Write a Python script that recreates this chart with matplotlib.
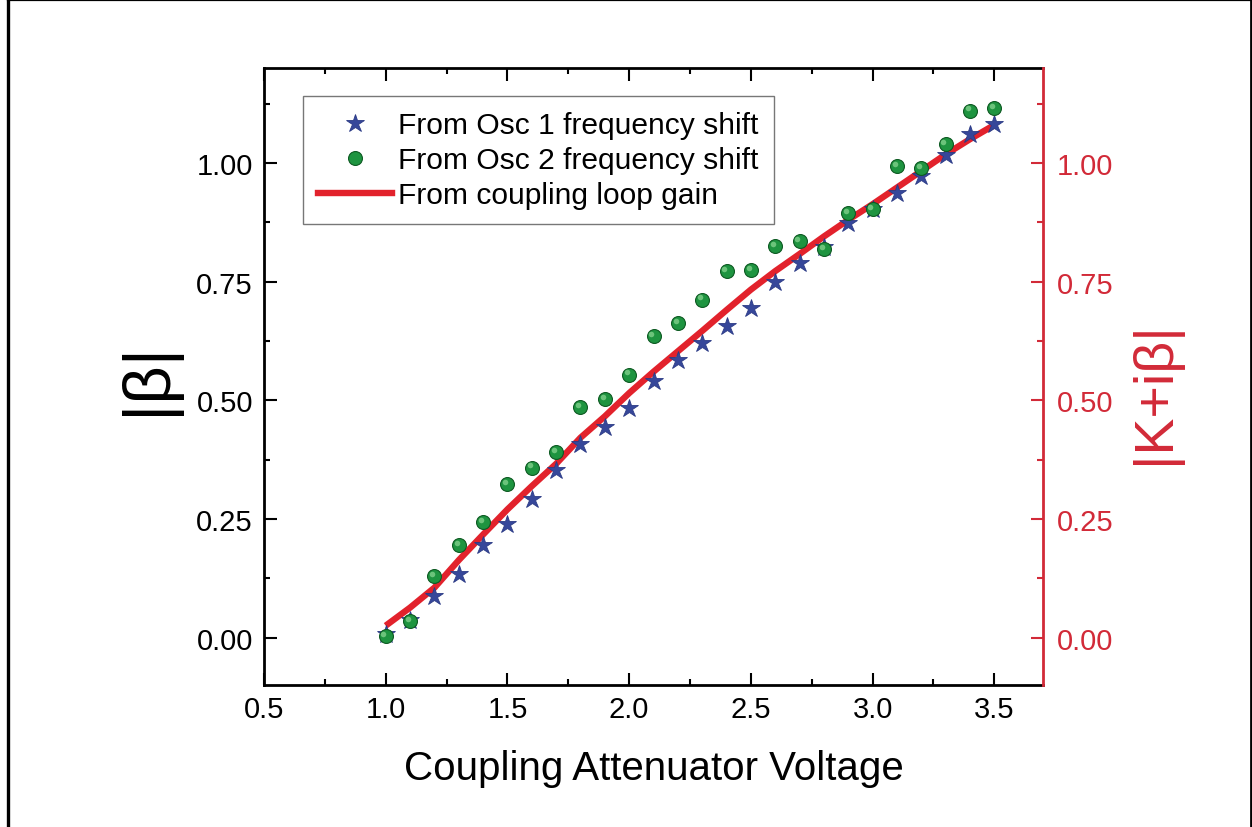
import matplotlib
matplotlib.use("Agg")
import matplotlib.pyplot as plt
from matplotlib.ticker import MultipleLocator
from matplotlib.lines import Line2D
import matplotlib.transforms as mtransforms

plt.rcParams['font.family'] = ['Liberation Sans', 'DejaVu Sans']

# ---- data ----
voltage = [1.0, 1.1, 1.2, 1.3, 1.4, 1.5, 1.6, 1.7, 1.8, 1.9, 2.0, 2.1, 2.2,
           2.3, 2.4, 2.5, 2.6, 2.7, 2.8, 2.9, 3.0, 3.1, 3.2, 3.3, 3.4, 3.5]
osc1_beta = [0.008, 0.038, 0.088, 0.133, 0.196, 0.239, 0.291, 0.352, 0.407,
             0.443, 0.484, 0.540, 0.584, 0.621, 0.656, 0.695, 0.749, 0.789,
             0.822, 0.874, 0.903, 0.937, 0.972, 1.017, 1.060, 1.081]
osc2_beta = [0.003, 0.035, 0.130, 0.194, 0.243, 0.323, 0.358, 0.391, 0.486,
             0.503, 0.554, 0.635, 0.663, 0.712, 0.772, 0.774, 0.824, 0.835,
             0.818, 0.895, 0.902, 0.993, 0.989, 1.039, 1.110, 1.116]
loop_gain = [0.025, 0.063, 0.105, 0.163, 0.217, 0.270, 0.319, 0.366, 0.421,
             0.466, 0.515, 0.560, 0.603, 0.646, 0.690, 0.733, 0.772, 0.808,
             0.845, 0.880, 0.913, 0.948, 0.983, 1.018, 1.050, 1.080]
legend_labels = ["From Osc 1 frequency shift", "From Osc 2 frequency shift",
                 "From coupling loop gain"]
x_ticks = [0.5, 1.0, 1.5, 2.0, 2.5, 3.0, 3.5]
y_ticks = [0.00, 0.25, 0.50, 0.75, 1.00]

RED = '#e2222c'
AXRED = '#d22a38'
BLUE = '#36479a'
GREEN = '#1e9440'

W, H = 1252, 828
fig = plt.figure(figsize=(W / 100, H / 100), dpi=100)
fig.patch.set_facecolor('white')

L, R, T, B = 264, 1043, 69, 686
ax = fig.add_axes([L / W, 1 - B / H, (R - L) / W, (B - T) / H])

ax.plot(voltage, loop_gain, color=RED, lw=4.6, solid_capstyle='butt',
        solid_joinstyle='round', zorder=2)
ax.plot(voltage, osc1_beta, linestyle='none', marker='*', ms=13.5,
        color=BLUE, markeredgecolor='#2b3a85', markeredgewidth=0.6, zorder=3)
ax.plot(voltage, osc2_beta, linestyle='none', marker='o', ms=10,
        color=GREEN, markeredgecolor='#0d5a22', markeredgewidth=0.8, zorder=4)
# highlight for a shaded look
hl = mtransforms.offset_copy(ax.transData, fig=fig, x=-1.6, y=1.6, units='points')
ax.plot(voltage, osc2_beta, linestyle='none', marker='o', ms=4,
        color='#7fd08a', markeredgewidth=0, alpha=0.8, transform=hl, zorder=5)

ax.set_xlim(0.5, 3.7)
ax.set_ylim(-0.1, 1.2)
ax.set_xticks(x_ticks)
ax.set_xticklabels([f"{v:.1f}" for v in x_ticks])
ax.set_yticks(y_ticks)
ax.set_yticklabels([f"{v:.2f}" for v in y_ticks])
ax.xaxis.set_minor_locator(MultipleLocator(0.25))
ax.yaxis.set_minor_locator(MultipleLocator(0.125))
ax.tick_params(axis='both', which='major', direction='in', length=9, width=1.5,
               labelsize=21, top=True, right=False)
ax.tick_params(axis='both', which='minor', direction='in', length=4.5, width=1.5,
               top=True, right=False)
ax.tick_params(axis='x', which='major', pad=7)
ax.tick_params(axis='y', which='major', pad=8)
for s in ['left', 'top', 'bottom']:
    ax.spines[s].set_linewidth(2)
ax.spines['right'].set_visible(False)

ax2 = ax.twinx()
ax2.set_ylim(-0.1, 1.2)
ax2.set_yticks(y_ticks)
ax2.set_yticklabels([f"{v:.2f}" for v in y_ticks])
ax2.yaxis.set_minor_locator(MultipleLocator(0.125))
ax2.tick_params(axis='y', which='major', direction='in', length=9, width=1.5,
                colors=AXRED, labelsize=21, pad=10)
ax2.tick_params(axis='y', which='minor', direction='in', length=4.5, width=1.5,
                colors=AXRED)
ax2.spines['right'].set_color(AXRED)
ax2.spines['right'].set_linewidth(2)
for s in ['left', 'top', 'bottom']:
    ax2.spines[s].set_visible(False)

ax.set_xlabel("Coupling Attenuator Voltage", fontsize=29)
ax.xaxis.set_label_coords(0.5, (B - 769) / (B - T))
ax.xaxis.label.set_va('center')

ax.set_ylabel("|β|", fontsize=48, va='center', ha='center', rotation_mode='default')
ax.yaxis.set_label_coords((148 - L) / (R - L), (B - 378) / (B - T))

ax2.set_ylabel("|K+iβ|", fontsize=40, color=AXRED, va='center', ha='center',
               rotation=90, rotation_mode='default')
ax2.yaxis.set_label_coords((1155 - L) / (R - L), (B - 393) / (B - T))

handles = [
    Line2D([], [], linestyle='none', marker='*', ms=13.5, color=BLUE,
           markeredgecolor='#2b3a85', markeredgewidth=0.6),
    Line2D([], [], linestyle='none', marker='o', ms=10, color=GREEN,
           markeredgecolor='#0d5a22', markeredgewidth=0.8),
    Line2D([], [], color=RED, lw=4.6),
]
leg = ax.legend(handles, legend_labels, loc='upper left',
                bbox_to_anchor=((303 - L) / (R - L), 1 - (97 - T) / (B - T)),
                borderaxespad=0, fontsize=21.6, frameon=True, fancybox=False,
                edgecolor='#777777', framealpha=1, handlelength=2.45,
                handletextpad=0.23, labelspacing=0.24, borderpad=0.5,
                numpoints=1)
leg.get_frame().set_linewidth(1.0)
leg.set_zorder(10)

# outer frame lines
fig.add_artist(Line2D([7.5 / W, 7.5 / W], [0, 1], transform=fig.transFigure,
                      color='black', lw=2.4))
fig.add_artist(Line2D([1250.5 / W, 1250.5 / W], [0, 1], transform=fig.transFigure,
                      color='black', lw=2.0))
fig.add_artist(Line2D([7.5 / W, 1250.5 / W], [1 - 0.8 / H, 1 - 0.8 / H],
                      transform=fig.transFigure, color='black', lw=1.6))

fig.savefig("out.png", dpi=100, facecolor='white')
